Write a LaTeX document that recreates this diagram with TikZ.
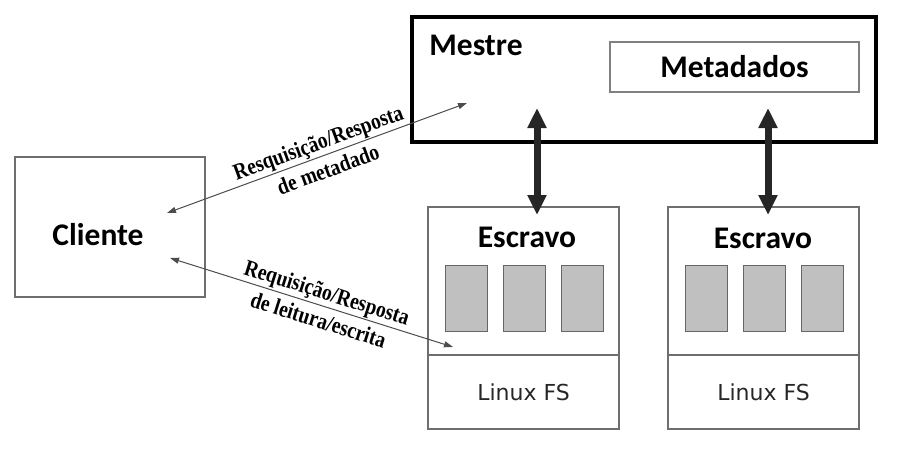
\documentclass[tikz,border=0pt]{standalone}
\usepackage{fontspec}
\setmainfont{Liberation Serif}
\newfontfamily\calibri{Carlito}
\newfontfamily\dejavu{DejaVu Sans}
\newfontfamily\narrowserif[FakeStretch=0.85]{Liberation Serif}
\usetikzlibrary{arrows.meta}
\definecolor{boxgray}{HTML}{6E6E6E}
\definecolor{diskgray}{HTML}{C0C0C0}

\tikzset{
  box/.style={draw=boxgray, line width=1.3pt, inner sep=0pt},
  title/.style={font=\calibri\bfseries\fontsize{31.5}{36}\selectfont},
  fslabel/.style={font=\dejavu\fontsize{22}{26}\selectfont, text=black!85},
  disk/.style={draw=black!60, fill=diskgray, line width=1pt, minimum width=42pt, minimum height=66pt, inner sep=0pt},
  req/.style={{Triangle[length=9pt,width=6pt]}-{Triangle[length=9pt,width=6pt]}, draw=black!70, line width=1pt},
  reqlabel/.style={font=\narrowserif\bfseries\fontsize{23}{29}\selectfont, align=center, sloped, inner sep=0pt},
  heavy/.style={{Triangle[length=20pt,width=18pt]}-{Triangle[length=20pt,width=18pt]}, line width=7pt, draw=black!85}
}

\begin{document}
\begin{tikzpicture}[x=1pt,y=-1pt]
\useasboundingbox (0,0) rectangle (904,463);
% mestre e metadados
\node[draw, line width=3.5pt, minimum width=464pt, minimum height=125pt, inner sep=0pt] (m) at (644,79.5) {};
\node[title] (mt) at (476,45) {Mestre};
\node[box, draw=black!50, line width=1.2pt, minimum width=249pt, minimum height=50pt, title] (meta) at (734.5,67) {Metadados};
% cliente
\node[box, minimum width=190pt, minimum height=140pt] (c) at (110,227) {};
\node[title] (ct) at (98,235) {Cliente};
% escravos
\node[box, minimum width=191pt, minimum height=148pt] (e1) at (523.5,281) {};
\node[box, fslabel, minimum width=191pt, minimum height=74pt] (fs1) at (523.5,392) {Linux FS};
\node[title] (e1t) at (527,237) {Escravo};
\node[box, minimum width=191pt, minimum height=148pt] (e2) at (763.5,281) {};
\node[box, fslabel, minimum width=191pt, minimum height=74pt] (fs2) at (763.5,392) {Linux FS};
\node[title] (e2t) at (763,238) {Escravo};
\foreach \x in {466,524,582,706,764,822}
  \node[disk] (d\x) at (\x,298) {};
% pontas das setas
\coordinate (c1) at (167,213); \coordinate (m0) at (467,103);
\coordinate (c2) at (170,258); \coordinate (s0) at (453,347);
\coordinate (h1) at (537,108); \coordinate (h1b) at (537,215);
\coordinate (h2) at (768,108); \coordinate (h2b) at (768,215);
% setas
\draw[req] (c1) -- node[reqlabel, pos=0.52] {Resquisição/Resposta\\de metadado} (m0);
\draw[req] (c2) -- node[reqlabel, pos=0.54] {Requisição/Resposta\\de leitura/escrita} (s0);
\draw[heavy] (h1) -- (h1b);
\draw[heavy] (h2) -- (h2b);
\end{tikzpicture}
\end{document}
